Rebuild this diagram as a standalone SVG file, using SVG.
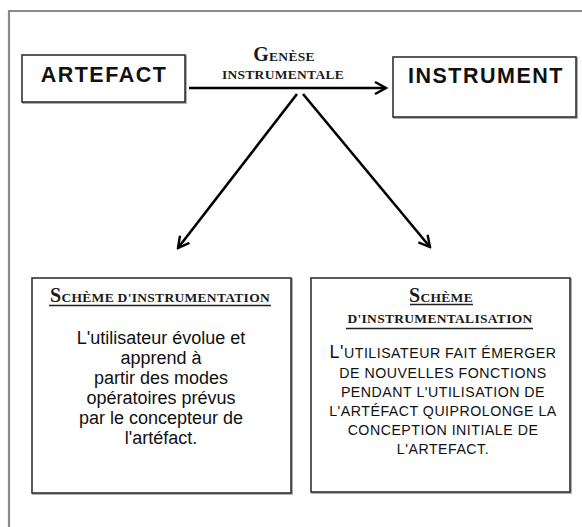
<svg xmlns="http://www.w3.org/2000/svg" width="582" height="527" viewBox="0 0 582 527">
  <style>
    .frame { fill: none; stroke: #8a8a8a; stroke-width: 2.2; }
    .box { fill: #ffffff; stroke: #333333; stroke-width: 1.6; }
    .shadow { fill: none; stroke: #9a9a9a; stroke-width: 1.6; }
    .head { font-family: "Liberation Sans", Arial, sans-serif; font-weight: bold; font-size: 21.5px; letter-spacing: 1.5px; fill: #111111; text-anchor: middle; }
    .sc { font-family: "Liberation Serif", "Times New Roman", serif; font-weight: bold; font-size: 13.5px; fill: #1a1a1a; text-anchor: middle; letter-spacing: 0.3px; }
    .big { font-size: 20px; }
    .body { font-family: "Liberation Sans", Arial, sans-serif; font-size: 18px; fill: #111111; text-anchor: middle; }
    .caps { font-family: "Liberation Sans", Arial, sans-serif; font-size: 14.2px; fill: #111111; text-anchor: middle; letter-spacing: 0.5px; }
    .capbig { font-size: 18px; }
    .rule { stroke: #222222; stroke-width: 1.6; }
    .link { fill: none; stroke: #000000; stroke-width: 2.6; }
  </style>
  <defs>
    <marker id="chevron" viewBox="0 0 14 14" refX="12" refY="7" markerWidth="14" markerHeight="14" markerUnits="userSpaceOnUse" orient="auto">
      <path d="M1,1 L12,7 L1,13" fill="none" stroke="#000000" stroke-width="2.4" stroke-linejoin="miter"/>
    </marker>
  </defs>

  <rect width="582" height="527" fill="#ffffff"/>

  <!-- outer frame (runs off the right and bottom edges) -->
  <path class="frame" d="M9,560 L9,11 L600,11"/>

  <!-- ARTEFACT -->
  <g id="artefact">
    <rect class="shadow" x="23" y="56" width="163" height="47"/>
    <rect class="box" x="22" y="55" width="163" height="47"/>
    <text class="head" x="104" y="82">ARTEFACT</text>
  </g>

  <!-- INSTRUMENT -->
  <g id="instrument">
    <rect class="shadow" x="394" y="58" width="183" height="60"/>
    <rect class="box" x="393" y="57" width="183" height="60"/>
    <text class="head" x="486" y="83">INSTRUMENT</text>
  </g>

  <!-- Schème d'instrumentation -->
  <g id="scheme-instrumentation">
    <rect class="shadow" x="33" y="279" width="259" height="215"/>
    <rect class="box" x="32" y="278" width="259" height="215"/>
    <text class="sc" x="160" y="302"><tspan class="big">S</tspan>CHÈME D'INSTRUMENTATION</text>
    <line class="rule" x1="49" y1="305.5" x2="271" y2="305.5"/>
    <text class="body" x="161" y="344">L'utilisateur évolue et</text>
    <text class="body" x="161" y="364">apprend à</text>
    <text class="body" x="161" y="384">partir des modes</text>
    <text class="body" x="161" y="404">opératoires prévus</text>
    <text class="body" x="161" y="424">par le concepteur de</text>
    <text class="body" x="161" y="444">l'artéfact.</text>
  </g>

  <!-- Schème d'instrumentalisation -->
  <g id="scheme-instrumentalisation">
    <rect class="shadow" x="312" y="279" width="259" height="214"/>
    <rect class="box" x="311" y="278" width="259" height="214"/>
    <text class="sc" x="441" y="301.5"><tspan class="big">S</tspan>CHÈME</text>
    <line class="rule" x1="410" y1="304.5" x2="473" y2="304.5"/>
    <text class="sc" x="440" y="323">D'INSTRUMENTALISATION</text>
    <line class="rule" x1="346" y1="328.5" x2="533" y2="328.5"/>
    <text class="caps" x="443" y="358"><tspan class="capbig">L'</tspan>UTILISATEUR FAIT ÉMERGER</text>
    <text class="caps" x="443" y="377.5">DE NOUVELLES FONCTIONS</text>
    <text class="caps" x="443" y="397">PENDANT L'UTILISATION DE</text>
    <text class="caps" x="443" y="416">L'ARTÉFACT QUIPROLONGE LA</text>
    <text class="caps" x="443" y="435">CONCEPTION INITIALE DE</text>
    <text class="caps" x="443" y="454">L'ARTEFACT.</text>
  </g>

  <!-- connectors -->
  <g id="connectors">
    <line class="link" x1="189" y1="88" x2="386" y2="88" marker-end="url(#chevron)"/>
    <line class="link" x1="297" y1="94" x2="178" y2="248" marker-end="url(#chevron)"/>
    <line class="link" x1="303" y1="94" x2="430" y2="247" marker-end="url(#chevron)"/>
    <text class="sc" x="284" y="61"><tspan class="big">G</tspan>ENÈSE</text>
    <text class="sc" x="283" y="79">INSTRUMENTALE</text>
  </g>
</svg>
